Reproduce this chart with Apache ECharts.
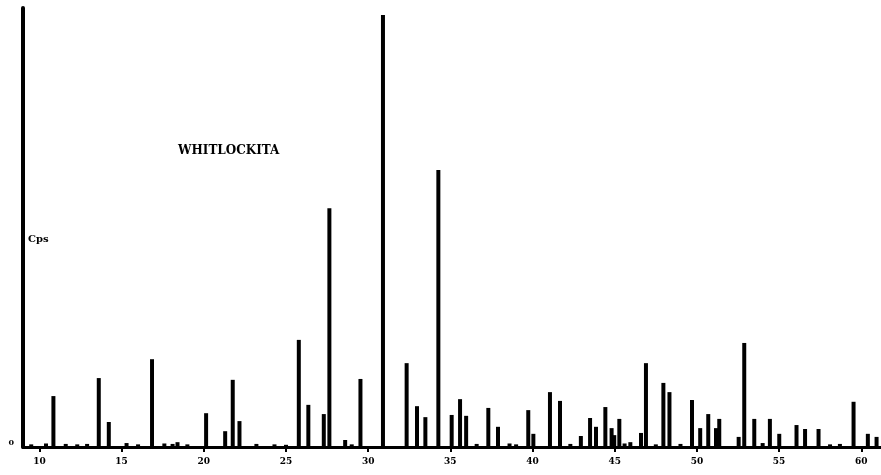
<!DOCTYPE html>
<html>
<head>
<meta charset="utf-8">
<script src="https://cdn.jsdelivr.net/npm/echarts@6/dist/echarts.min.js"></script>
<style>html,body{margin:0;padding:0;background:#fff}#c{width:881px;height:475px}</style>
</head>
<body>
<div id="c"></div>
<script>
// 2-theta positions (degrees) of the diffraction lines
var twoTheta = [10.85,13.61,14.22,16.85,18.4,20.14,21.3,21.76,22.17,23.2,25.78,26.36,27.3,27.64,28.6,29.53,30.9,32.34,32.97,33.48,34.27,35.08,35.59,35.96,37.31,37.9,39.74,40.05,41.06,41.67,42.94,43.5,43.86,44.43,44.81,44.97,45.28,45.95,46.6,46.9,47.96,48.33,49.7,50.2,50.69,51.16,51.36,52.54,52.88,53.49,54.44,55.01,56.06,56.58,57.4,59.53,60.4,60.93];
// relative intensity (Cps, % of axis height)
var intensity = [11.6,15.7,5.7,20.0,1.1,7.7,3.6,15.3,5.9,0.7,24.4,9.6,7.5,54.4,1.6,15.5,98.4,19.1,9.3,6.8,63.1,7.3,10.9,7.1,8.9,4.6,8.4,3.0,12.5,10.5,2.5,6.6,4.6,9.1,4.3,2.7,6.4,1.1,3.2,19.1,14.6,12.5,10.7,4.3,7.5,4.3,6.4,2.3,23.7,6.4,6.4,3.0,5.0,4.1,4.1,10.3,3.0,2.3];
// small baseline bumps
var noiseTheta = [9.5,10.4,11.6,12.3,12.9,15.3,16.0,17.6,18.1,19.0,24.3,25.0,29.0,36.6,38.6,39.0,42.3,45.6,47.5,49.0,54.0,58.1,58.7];
var noiseInt = [0.6,0.8,0.7,0.6,0.7,0.9,0.6,0.8,0.7,0.6,0.6,0.5,0.6,0.7,0.8,0.6,0.7,0.8,0.6,0.7,0.9,0.6,0.7];
var xTicks = [10,15,20,25,30,35,40,45,50,55,60];
var yTicks = [0];
var titleText = 'WHITLOCKITA';
var yName = 'Cps';

var peaks = twoTheta.map(function(t,i){return [t,intensity[i]];});
var noise = noiseTheta.map(function(t,i){return [t,noiseInt[i]];});

var chart = echarts.init(document.getElementById('c'));
chart.setOption({
  animation:false,
  backgroundColor:'#fff',
  grid:{left:23,right:0,top:8,bottom:28,containLabel:false},
  xAxis:{type:'value',min:9,max:61.2,
    axisLine:{show:true,onZero:false,lineStyle:{color:'#000',width:3}},
    axisTick:{show:true,customValues:xTicks,length:5,lineStyle:{color:'#000',width:2}},
    axisLabel:{customValues:xTicks,color:'#000',fontFamily:'DejaVu Serif',fontWeight:'bold',fontSize:9,margin:10},
    splitLine:{show:false}},
  yAxis:{type:'value',min:0,max:100,
    axisLine:{show:true,lineStyle:{color:'#000',width:4}},
    axisTick:{show:false},
    axisLabel:{customValues:yTicks,color:'#000',fontFamily:'DejaVu Serif',fontWeight:'bold',fontSize:8,margin:9,verticalAlign:'bottom'},
    splitLine:{show:false}},
  series:[
    {type:'bar',data:peaks,barWidth:4,itemStyle:{color:'#000'},barGap:'-100%'},
    {type:'bar',data:noise,barWidth:4,itemStyle:{color:'#000'},barGap:'-100%'}
  ],
  graphic:[
    {type:'text',left:178,top:145,style:{text:titleText,fill:'#000',font:'bold 12px "DejaVu Serif"'}},
    {type:'text',left:28,top:234,style:{text:yName,fill:'#000',font:'bold 10px "DejaVu Serif"'}}
  ]
});
</script>
</body>
</html>
